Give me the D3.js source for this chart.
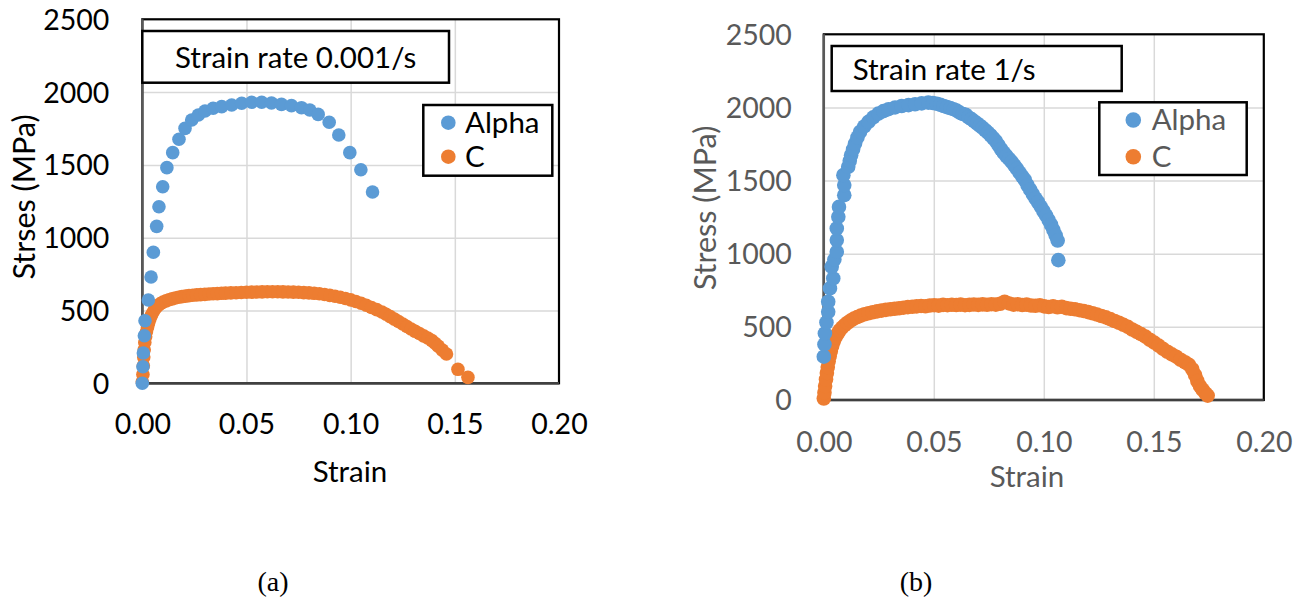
<!DOCTYPE html>
<html>
<head>
<meta charset="utf-8">
<script src="https://cdn.jsdelivr.net/npm/d3@7"></script>
<style>
  html, body { margin: 0; padding: 0; background: #fff; }
  svg { display: block; }
</style>
</head>
<body>
<svg id="fig" width="1309" height="599"></svg>
<script>
// ---- tick labels ----
const xTicks = [0, 0.05, 0.10, 0.15, 0.20];
const yTicks = [0, 500, 1000, 1500, 2000, 2500];
const seriesNames = ["Alpha", "C"];

// ---- (a) strain rate 0.001/s : [strain, stress MPa] ----
const alphaSlow = [
  [0.0000, 0], [0.0003, 114], [0.0005, 208], [0.0010, 327], [0.0013, 430],
  [0.0029, 572], [0.0042, 730], [0.0053, 900], [0.0069, 1078], [0.0080, 1213],
  [0.0098, 1350], [0.0118, 1481], [0.0146, 1584], [0.0176, 1676], [0.0205, 1751],
  [0.0237, 1808], [0.0269, 1843], [0.0301, 1870], [0.0340, 1889], [0.0381, 1900],
  [0.0429, 1911], [0.0477, 1923], [0.0525, 1930], [0.0573, 1930], [0.0620, 1925],
  [0.0668, 1916], [0.0716, 1907], [0.0764, 1893], [0.0804, 1877], [0.0844, 1847],
  [0.0897, 1793], [0.0943, 1705], [0.0996, 1584], [0.1049, 1467], [0.1105, 1314]
];
const cSlow = [
  [0.0000, 10], [0.0003, 60], [0.0005, 120], [0.0007, 180], [0.0009, 230],
  [0.0012, 280], [0.0016, 320], [0.0020, 354], [0.0025, 385], [0.0030, 412],
  [0.0036, 440], [0.0043, 465], [0.0050, 485], [0.0058, 505], [0.0067, 522],
  [0.0077, 536], [0.0088, 548], [0.0100, 558], [0.0114, 566], [0.0128, 574],
  [0.0143, 580], [0.0158, 586], [0.0174, 591], [0.0190, 595], [0.0207, 599],
  [0.0224, 602], [0.0242, 605], [0.0261, 607], [0.0280, 609], [0.0300, 611],
  [0.0320, 613], [0.0340, 615], [0.0360, 616], [0.0380, 618], [0.0400, 619],
  [0.0425, 621], [0.0450, 622], [0.0475, 624], [0.0500, 625], [0.0525, 626],
  [0.0550, 627], [0.0575, 628], [0.0600, 629], [0.0625, 629], [0.0650, 629],
  [0.0675, 628], [0.0700, 627], [0.0725, 626], [0.0750, 625], [0.0775, 623],
  [0.0800, 621], [0.0825, 618], [0.0850, 615], [0.0875, 610], [0.0900, 604],
  [0.0925, 598], [0.0950, 591], [0.0975, 582], [0.1000, 573], [0.1025, 562],
  [0.1050, 550], [0.1075, 536], [0.1100, 521], [0.1125, 506], [0.1150, 490],
  [0.1170, 474], [0.1190, 458], [0.1210, 441], [0.1230, 424], [0.1250, 407],
  [0.1270, 390], [0.1290, 373], [0.1310, 357], [0.1330, 342], [0.1350, 326],
  [0.1370, 311], [0.1390, 293], [0.1405, 275], [0.1420, 255], [0.1440, 228],
  [0.1460, 201], [0.1515, 96], [0.1563, 41]
];

// ---- (b) strain rate 1/s : [strain, stress MPa] ----
const alphaFast = [
  [0.0000, 296], [0.0003, 380], [0.0005, 455], [0.0012, 530], [0.0020, 603],
  [0.0020, 672], [0.0028, 763], [0.0043, 831], [0.0036, 911], [0.0048, 960],
  [0.0059, 1013], [0.0059, 1093], [0.0059, 1173], [0.0066, 1252], [0.0069, 1320],
  [0.0093, 1400], [0.0093, 1469], [0.0089, 1537], [0.0111, 1594], [0.0118, 1635],
  [0.0124, 1673], [0.0133, 1713], [0.0142, 1753], [0.0153, 1795], [0.0165, 1833],
  [0.0184, 1870], [0.0203, 1901], [0.0225, 1932], [0.0248, 1958], [0.0271, 1975],
  [0.0294, 1988], [0.0324, 2000], [0.0354, 2010], [0.0385, 2016], [0.0415, 2022],
  [0.0445, 2028], [0.0475, 2033], [0.0496, 2030], [0.0514, 2025], [0.0530, 2018],
  [0.0545, 2010], [0.0560, 2002], [0.0575, 1995], [0.0590, 1988], [0.0604, 1978],
  [0.0618, 1965], [0.0632, 1955], [0.0645, 1950], [0.0658, 1932], [0.0671, 1920],
  [0.0684, 1905], [0.0697, 1890], [0.0710, 1875], [0.0722, 1860], [0.0734, 1844],
  [0.0746, 1828], [0.0758, 1810], [0.0770, 1790], [0.0782, 1770], [0.0794, 1742],
  [0.0806, 1714], [0.0818, 1690], [0.0830, 1668], [0.0842, 1648], [0.0854, 1628],
  [0.0866, 1604], [0.0878, 1580], [0.0890, 1554], [0.0902, 1528], [0.0914, 1504],
  [0.0926, 1468], [0.0938, 1438], [0.0950, 1408], [0.0962, 1378], [0.0974, 1352],
  [0.0986, 1322], [0.0998, 1292], [0.1010, 1262], [0.1022, 1230], [0.1033, 1198],
  [0.1044, 1161], [0.1054, 1126], [0.1063, 1090], [0.1066, 956]
];
const cFast = [
  [0.0000, 10], [0.0003, 50], [0.0006, 95], [0.0010, 140], [0.0014, 185],
  [0.0018, 225], [0.0022, 265], [0.0027, 300], [0.0032, 335], [0.0038, 370],
  [0.0045, 400], [0.0053, 428], [0.0062, 452], [0.0072, 475], [0.0083, 495],
  [0.0095, 512], [0.0108, 528], [0.0122, 543], [0.0137, 556], [0.0152, 567],
  [0.0168, 577], [0.0185, 586], [0.0203, 593], [0.0222, 600], [0.0242, 606],
  [0.0262, 611], [0.0282, 616], [0.0302, 620], [0.0322, 624], [0.0342, 627],
  [0.0362, 631], [0.0382, 635], [0.0402, 637], [0.0422, 640], [0.0442, 643],
  [0.0462, 641], [0.0482, 646], [0.0502, 648], [0.0522, 645], [0.0542, 650],
  [0.0562, 648], [0.0582, 651], [0.0602, 649], [0.0622, 652], [0.0642, 648],
  [0.0662, 650], [0.0682, 653], [0.0702, 650], [0.0722, 654], [0.0742, 651],
  [0.0762, 655], [0.0782, 652], [0.0802, 658], [0.0822, 672], [0.0842, 660],
  [0.0862, 652], [0.0882, 655], [0.0902, 649], [0.0922, 652], [0.0942, 646],
  [0.0962, 644], [0.0982, 648], [0.1002, 640], [0.1022, 636], [0.1042, 641],
  [0.1062, 634], [0.1082, 637], [0.1102, 628], [0.1122, 624], [0.1142, 620],
  [0.1162, 614], [0.1182, 608], [0.1202, 601], [0.1222, 593], [0.1242, 584],
  [0.1262, 574], [0.1282, 565], [0.1302, 553], [0.1322, 540], [0.1342, 528],
  [0.1362, 514], [0.1382, 500], [0.1402, 482], [0.1422, 466], [0.1442, 450],
  [0.1462, 433], [0.1482, 412], [0.1502, 392], [0.1522, 372], [0.1542, 350],
  [0.1562, 330], [0.1582, 312], [0.1602, 296], [0.1622, 275], [0.1642, 258],
  [0.1660, 240], [0.1675, 210], [0.1688, 170], [0.1698, 130], [0.1710, 95],
  [0.1722, 70], [0.1735, 45], [0.1745, 30]
];

const BLUE = "#5B9BD5", ORANGE = "#ED7D31", GRID = "#D9D9D9";
const SANS = "Lato, 'Open Sans', sans-serif";
const SERIF = "'Liberation Serif', 'Times New Roman', serif";
const svg = d3.select("#fig");

function label(sel, size, color) {
  return sel.style("font-family", SANS).attr("font-size", size).attr("fill", color);
}

function drawPanel(p) {
  const x = d3.scaleLinear().domain([0, 0.20]).range([p.left, p.right]);
  const y = d3.scaleLinear().domain([0, 2500]).range([p.bottom, p.top]);
  const g = svg.append("g");
  const w = p.right - p.left, h = p.bottom - p.top;

  // gridlines
  g.append("g").attr("transform", `translate(0,${p.bottom})`)
    .call(d3.axisBottom(x).tickValues(xTicks.slice(1, -1)).tickSize(-h).tickFormat(""))
    .call(s => s.select(".domain").remove())
    .call(s => s.selectAll("line").attr("stroke", GRID).attr("stroke-width", 1.5));
  g.append("g").attr("transform", `translate(${p.left},0)`)
    .call(d3.axisLeft(y).tickValues(yTicks.slice(1, -1)).tickSize(-w).tickFormat(""))
    .call(s => s.select(".domain").remove())
    .call(s => s.selectAll("line").attr("stroke", GRID).attr("stroke-width", 1.5));

  // tick labels
  const yAx = g.append("g").attr("transform", `translate(${p.left},0)`)
    .call(d3.axisLeft(y).tickValues(yTicks).tickSize(0).tickPadding(p.yPad).tickFormat(d3.format("d")));
  yAx.select(".domain").remove();
  label(yAx.selectAll("text"), p.tickFs, p.textColor).attr("dy", "0.35em");

  const xAx = g.append("g").attr("transform", `translate(0,${p.bottom})`)
    .call(d3.axisBottom(x).tickValues(xTicks).tickSize(0).tickPadding(0).tickFormat(d3.format(".2f")));
  xAx.select(".domain").remove();
  label(xAx.selectAll("text"), p.tickFs, p.textColor).attr("y", p.xLabOff).attr("dy", "0.35em");

  // axis titles
  label(g.append("text"), p.titleFs, p.textColor)
    .attr("x", p.xTitle[0]).attr("y", p.xTitle[1])
    .attr("text-anchor", "middle").attr("dy", "0.35em").text("Strain");
  label(g.append("text"), p.yTitleFs, p.textColor)
    .attr("transform", `translate(${p.yTitle[0]},${p.yTitle[1]}) rotate(-90)`)
    .attr("text-anchor", "middle").attr("dy", "0.35em").text(p.yLabel);

  // plot frame
  g.append("rect").attr("x", p.left).attr("y", p.top).attr("width", w).attr("height", h)
    .attr("fill", "none").attr("stroke", "#000").attr("stroke-width", 2.2);
  g.append("line").attr("x1", p.left).attr("x2", p.left).attr("y1", p.top).attr("y2", p.bottom)
    .attr("stroke", "#595959").attr("stroke-width", 2.5);
  g.append("line").attr("x1", p.left).attr("x2", p.right).attr("y1", p.bottom).attr("y2", p.bottom)
    .attr("stroke", "#404040").attr("stroke-width", 2.5);

  // strain-rate label box
  g.append("rect").attr("x", p.tbox[0]).attr("y", p.tbox[1])
    .attr("width", p.tbox[2] - p.tbox[0]).attr("height", p.tbox[3] - p.tbox[1])
    .attr("fill", "#fff").attr("stroke", "#000").attr("stroke-width", 2.5);
  label(g.append("text"), p.titleFs, "#000")
    .attr("x", p.ttext[0]).attr("y", p.ttext[1]).text(p.title);

  // legend
  g.append("rect").attr("x", p.lbox[0]).attr("y", p.lbox[1])
    .attr("width", p.lbox[2] - p.lbox[0]).attr("height", p.lbox[3] - p.lbox[1])
    .attr("fill", "#fff").attr("stroke", "#000").attr("stroke-width", 2.5);
  [BLUE, ORANGE].forEach((c, i) => {
    g.append("circle").attr("cx", p.lmark[0]).attr("cy", p.lmark[1 + i])
      .attr("r", p.r + 0.5).attr("fill", c);
    label(g.append("text"), p.titleFs, p.textColor)
      .attr("x", p.ltext).attr("y", p.lmark[1 + i]).attr("dy", "0.35em").text(seriesNames[i]);
  });

  // data
  const plot = g.append("g");
  plot.selectAll("circle.c").data(p.c).join("circle").attr("class", "c")
    .attr("cx", d => x(d[0])).attr("cy", d => y(d[1])).attr("r", p.r).attr("fill", ORANGE);
  plot.selectAll("circle.a").data(p.a).join("circle").attr("class", "a")
    .attr("cx", d => x(d[0])).attr("cy", d => y(d[1])).attr("r", p.r).attr("fill", BLUE);
}

drawPanel({
  left: 142.3, right: 559, top: 19.3, bottom: 383.3,
  tickFs: 28.5, titleFs: 29.5, yTitleFs: 30.5, textColor: "#000", yPad: 33, xLabOff: 41,
  xTitle: [350, 472], yTitle: [24, 197], yLabel: "Strses (MPa)",
  tbox: [142.3, 31, 449, 82.7], ttext: [175, 68], title: "Strain rate 0.001/s",
  lbox: [423.3, 105, 552.3, 175.7], lmark: [448.3, 122.7, 156.7], ltext: 465,
  r: 6.8, a: alphaSlow, c: cSlow
});
drawPanel({
  left: 823.8, right: 1263.8, top: 34.3, bottom: 400,
  tickFs: 28.5, titleFs: 29.5, yTitleFs: 30.5, textColor: "#595959", yPad: 32, xLabOff: 42,
  xTitle: [1027, 477], yTitle: [705, 208], yLabel: "Stress (MPa)",
  tbox: [831.7, 46, 1121.7, 91], ttext: [852.7, 80], title: "Strain rate 1/s",
  lbox: [1099.3, 102.3, 1246.7, 175], lmark: [1133.3, 120, 156.7], ltext: 1151.7,
  r: 7.3, a: alphaFast, c: cFast
});

// panel captions
[["(a)", 273], ["(b)", 916]].forEach(([t, cx]) => {
  svg.append("text").attr("x", cx).attr("y", 581).attr("text-anchor", "middle").attr("dy", "0.35em")
    .style("font-family", SERIF).attr("font-size", 28).attr("fill", "#000").text(t);
});
</script>
</body>
</html>
